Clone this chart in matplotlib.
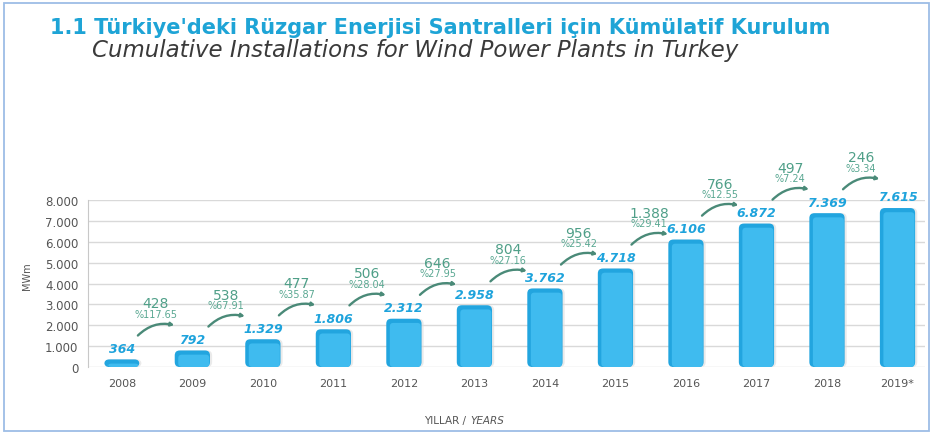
import matplotlib
matplotlib.use("Agg")
import matplotlib.pyplot as plt
from matplotlib.patches import FancyBboxPatch, Rectangle, FancyArrowPatch

# --- Données ---
years = ["2008", "2009", "2010", "2011", "2012", "2013", "2014", "2015", "2016", "2017", "2018", "2019*"]
values = [364, 792, 1329, 1806, 2312, 2958, 3762, 4718, 6106, 6872, 7369, 7615]
value_labels = ["364", "792", "1.329", "1.806", "2.312", "2.958", "3.762", "4.718",
                "6.106", "6.872", "7.369", "7.615"]
increases = ["428", "538", "477", "506", "646", "804", "956", "1.388", "766", "497", "246"]
percents = ["%117.65", "%67.91", "%35.87", "%28.04", "%27.95", "%27.16", "%25.42",
            "%29.41", "%12.55", "%7.24", "%3.34"]
yticks = [0, 1000, 2000, 3000, 4000, 5000, 6000, 7000, 8000]
ytick_labels = ["0", "1.000", "2.000", "3.000", "4.000", "5.000", "6.000", "7.000", "8.000"]

plt.rcParams["font.family"] = ["DejaVu Sans"]

W, H = 932, 435
fig = plt.figure(figsize=(W / 100, H / 100), dpi=100)
fig.patch.set_facecolor("white")

# cadre bleu clair
fig.patches.append(Rectangle((4 / W, 3 / H), 925 / W, 428 / H, transform=fig.transFigure,
                             fill=False, edgecolor="#9dbde6", linewidth=1.3))

fig.text(50 / W, 1 - 34 / H,
         "1.1 Türkiye'deki Rüzgar Enerjisi Santralleri için Kümülatif Kurulum",
         fontsize=15, fontweight="bold", color="#1ea4d6", va="baseline", ha="left")
fig.text(92 / W, 1 - 57 / H, "Cumulative Installations for Wind Power Plants in Turkey",
         fontsize=16.5, fontstyle="italic", color="#3a3a3a", va="baseline", ha="left")

ax = fig.add_axes([88 / W, 67 / H, 837 / W, 167 / H])
x = list(range(len(years)))
ax.set_xlim(-0.48, 11.39)
ax.set_ylim(0, 8000)

for s in ["top", "right", "bottom"]:
    ax.spines[s].set_visible(False)
ax.spines["left"].set_color("#c8c8c8")
ax.set_yticks(yticks)
ax.set_yticklabels(ytick_labels)
ax.yaxis.grid(True, color="#d9d9d9", linewidth=1)
ax.set_axisbelow(True)
ax.tick_params(axis="y", length=0, labelsize=8.5, labelcolor="#555555", pad=7)
ax.tick_params(axis="x", length=0, labelsize=8, labelcolor="#555555", pad=8)
ax.set_xticks(x)
ax.set_xticklabels(years)

# --- Barres arrondies ---
bars = ax.bar(x, values, width=0.5, color="#3db9ee")
aspect = (8000 / 167) / (11.87 / 837)
for b in bars:
    bx, by, bw, bh = b.get_x(), b.get_y(), b.get_width(), b.get_height()
    b.set_visible(False)
    shadow = FancyBboxPatch((bx + 0.03, by), bw, bh, boxstyle="round,pad=0,rounding_size=0.07",
                            mutation_aspect=aspect, facecolor="#dcdcdc", edgecolor="none",
                            alpha=0.6, zorder=2)
    ax.add_patch(shadow)
    body = FancyBboxPatch((bx, by), bw, bh, boxstyle="round,pad=0,rounding_size=0.07",
                          mutation_aspect=aspect, facecolor="#22a5df", edgecolor="none", zorder=3)
    ax.add_patch(body)
    inner = FancyBboxPatch((bx + 0.05, by), bw - 0.06, max(bh - 200, 0),
                           boxstyle="round,pad=0,rounding_size=0.05",
                           mutation_aspect=aspect, facecolor="#3fbbef", edgecolor="none", zorder=4)
    ax.add_patch(inner)

for xi, v, lab in zip(x, values, value_labels):
    ax.annotate(lab, (xi, v), xytext=(0, 8), textcoords="offset points", ha="center",
                va="center", fontsize=9, fontweight="bold", fontstyle="italic",
                color="#1ea3dc", zorder=6, annotation_clip=False)

# --- Augmentations annuelles ---
for i, (inc, pct) in enumerate(zip(increases, percents)):
    y0 = values[i] + 1050
    arr = FancyArrowPatch((i + 0.2, y0), (i + 0.78, y0 + 560),
                          connectionstyle="arc3,rad=-0.3",
                          arrowstyle="-|>,head_length=1.8,head_width=1.0",
                          color="#4a8a78", linewidth=1.7, clip_on=False, zorder=5)
    ax.add_patch(arr)
    ax.text(i + 0.48, y0 + 1130, pct, ha="center", va="center", fontsize=7,
            color="#5aa892", clip_on=False)
    ax.text(i + 0.48, y0 + 1630, inc, ha="center", va="center", fontsize=10,
            color="#4f9f88", clip_on=False)

fig.text(27 / W, 1 - 276 / H, "MWm", rotation=90, fontsize=7, color="#555555",
         ha="center", va="center")

fig.text(466 / W, 1 - 421 / H, "YILLAR /", fontsize=7.5, color="#555555", ha="right", va="center")
fig.text(470 / W, 1 - 421 / H, "YEARS", fontsize=7.5, color="#555555", fontstyle="italic",
         ha="left", va="center")

fig.savefig("out.png", dpi=100)
